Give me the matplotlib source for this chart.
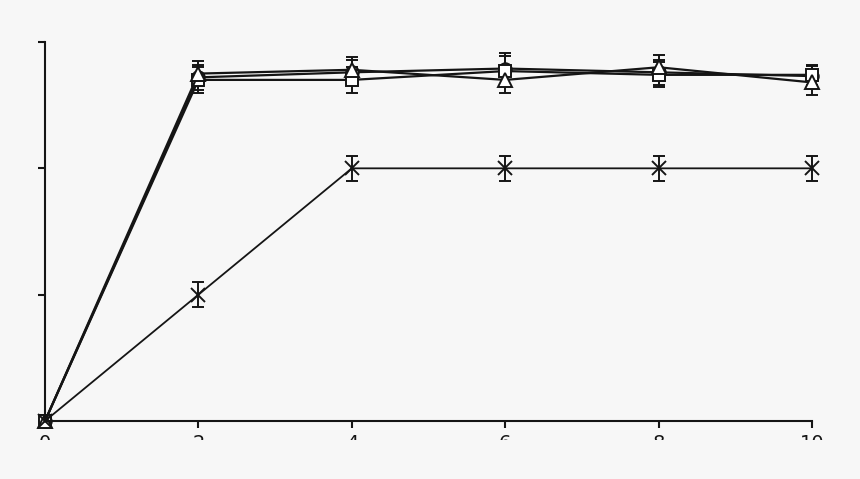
import matplotlib
matplotlib.use('Agg')
import matplotlib.pyplot as plt
from matplotlib.patches import Rectangle

# data
x = [0, 2, 4, 6, 8, 10]
circle_y = [0.0, 2.72, 2.76, 2.79, 2.76, 2.73]
circle_err = [0.05, 0.1, 0.1, 0.12, 0.1, 0.08]
square_y = [0.0, 2.70, 2.70, 2.77, 2.74, 2.74]
square_err = [0.05, 0.1, 0.1, 0.12, 0.1, 0.08]
triangle_y = [0.0, 2.75, 2.78, 2.70, 2.80, 2.68]
triangle_err = [0.05, 0.1, 0.1, 0.1, 0.1, 0.1]
cross_y = [0.0, 1.0, 2.0, 2.0, 2.0, 2.0]
cross_err = [0.05, 0.1, 0.1, 0.1, 0.1, 0.1]
xticks = [0, 2, 4, 6, 8, 10]
yticks = [0, 1, 2, 3]

bg = '#f7f7f7'
ink = '#151515'

fig = plt.figure(figsize=(8.6, 4.79), dpi=100, facecolor=bg)
ax = fig.add_axes([45 / 860, 58 / 479, 767 / 860, 379 / 479])
ax.set_facecolor(bg)

common = dict(color=ink, ecolor=ink, elinewidth=1.4, capsize=4, capthick=2,
              markerfacecolor='white', markeredgecolor=ink, markeredgewidth=1.4,
              clip_on=False)
ax.errorbar(x, circle_y, yerr=circle_err, marker='o', ms=9, lw=1.6, **common)
ax.errorbar(x, square_y, yerr=square_err, marker='s', ms=9, lw=1.6, **common)
ax.errorbar(x, triangle_y, yerr=triangle_err, marker='^', ms=10, lw=1.6, **common)
ax.errorbar(x, cross_y, yerr=cross_err, marker='x', ms=10, lw=1.3, **common)

ax.set_xlim(0, 10)
ax.set_ylim(0, 3)
ax.set_xticks(xticks)
ax.set_xticklabels([str(t) for t in xticks])
ax.set_yticks(yticks)
ax.set_yticklabels([])
for s in ['top', 'right']:
    ax.spines[s].set_visible(False)
for s in ['left', 'bottom']:
    ax.spines[s].set_color(ink)
    ax.spines[s].set_linewidth(1.5)
ax.tick_params(axis='both', direction='out', length=5, width=1.5, color=ink)
ax.tick_params(axis='x', labelsize=14, pad=4.5, labelcolor=ink)

# the reference is cropped just under the tops of the tick labels
fig.patches.append(Rectangle((0, 0), 1, 39 / 479, transform=fig.transFigure,
                             facecolor=bg, edgecolor='none', zorder=10))

fig.savefig('out.png', dpi=100, facecolor=bg)
